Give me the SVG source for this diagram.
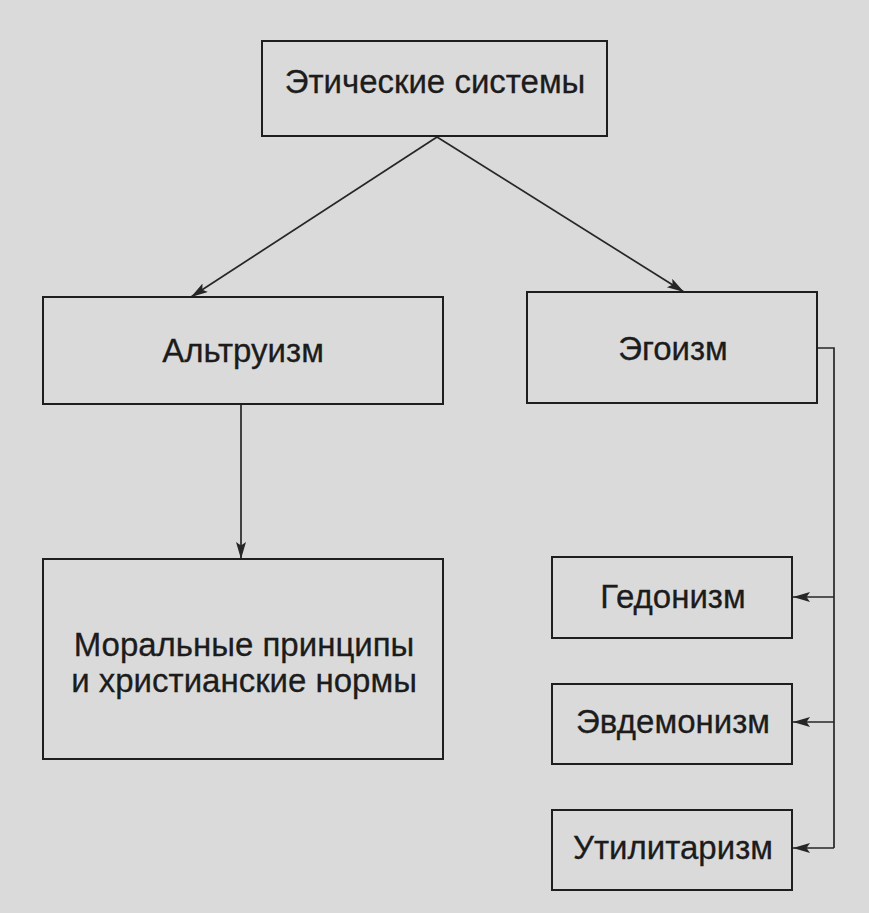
<svg xmlns="http://www.w3.org/2000/svg" width="869" height="913" viewBox="0 0 869 913">
  <style>
    .box { fill: none; stroke: #1e1e1e; stroke-width: 2; }
    .lbl { font-family: "Liberation Sans", Arial, sans-serif; font-size: 33px; fill: #1c1c1c; text-anchor: middle; stroke: #1c1c1c; stroke-width: 0.3; }
    .conn { fill: none; stroke: #262626; stroke-width: 1.7; }
  </style>
  <defs>
    <marker id="arr" markerUnits="userSpaceOnUse" markerWidth="18" markerHeight="12" refX="17" refY="5" orient="auto">
      <path d="M0,0 L17,5 L0,10 L3.5,5 Z" fill="#262626"/>
    </marker>
  </defs>
  <rect x="0" y="0" width="869" height="913" fill="#dadada"/>

  <g id="connectors">
    <line class="conn" x1="437" y1="137" x2="191" y2="297" marker-end="url(#arr)"/>
    <line class="conn" x1="437" y1="137" x2="684" y2="292" marker-end="url(#arr)"/>
    <line class="conn" x1="241" y1="404" x2="241" y2="559" marker-end="url(#arr)"/>
    <path class="conn" d="M817,348 H834 V848"/>
    <line class="conn" x1="834" y1="597" x2="793" y2="597" marker-end="url(#arr)"/>
    <line class="conn" x1="834" y1="722" x2="793" y2="722" marker-end="url(#arr)"/>
    <line class="conn" x1="834" y1="848" x2="793" y2="848" marker-end="url(#arr)"/>
  </g>

  <g id="ethical-systems">
    <rect class="box" x="262" y="41" width="345" height="95"/>
    <text class="lbl" x="435" y="93">Этические системы</text>
  </g>
  <g id="altruism">
    <rect class="box" x="43" y="297" width="400" height="107"/>
    <text class="lbl" x="243" y="362">Альтруизм</text>
  </g>
  <g id="egoism">
    <rect class="box" x="527" y="292" width="290" height="111"/>
    <text class="lbl" x="673" y="360">Эгоизм</text>
  </g>
  <g id="moral-principles">
    <rect class="box" x="43" y="559" width="400" height="200"/>
    <text class="lbl" x="244" y="656">Моральные принципы</text>
    <text class="lbl" x="244" y="692">и христианские нормы</text>
  </g>
  <g id="hedonism">
    <rect class="box" x="552" y="557" width="240" height="81"/>
    <text class="lbl" x="673" y="608">Гедонизм</text>
  </g>
  <g id="eudemonism">
    <rect class="box" x="552" y="684" width="240" height="80"/>
    <text class="lbl" x="673" y="733">Эвдемонизм</text>
  </g>
  <g id="utilitarianism">
    <rect class="box" x="552" y="810" width="240" height="80"/>
    <text class="lbl" x="673" y="859">Утилитаризм</text>
  </g>
</svg>
